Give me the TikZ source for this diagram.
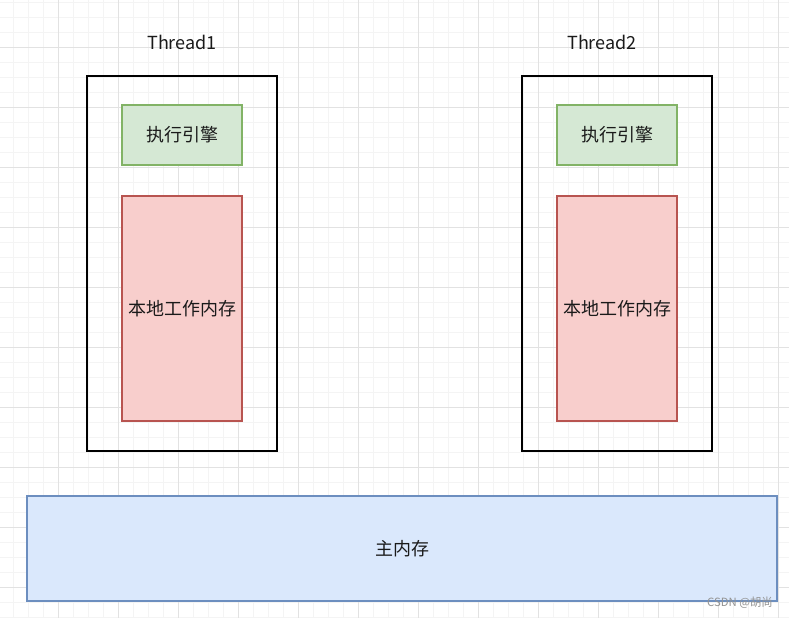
\documentclass[tikz,border=0pt]{standalone}
\usepackage{fontspec}
\setmainfont{Noto Sans CJK SC}
\usetikzlibrary{positioning}

\definecolor{gridminor}{HTML}{F4F4F4}
\definecolor{gridmajor}{HTML}{E2E2E2}
\definecolor{greenfill}{HTML}{D5E8D4}
\definecolor{greenline}{HTML}{82B366}
\definecolor{redfill}{HTML}{F8CECC}
\definecolor{redline}{HTML}{B85450}
\definecolor{bluefill}{HTML}{DAE8FC}
\definecolor{blueline}{HTML}{6C8EBF}
\definecolor{textcol}{HTML}{1A1A1A}

\tikzset{
  box/.style={rectangle, inner sep=0pt, text=textcol, font=\fontsize{13.5pt}{16pt}\selectfont},
  threadbox/.style={box, draw=black, line width=1.5pt, minimum width=142.5pt, minimum height=281.25pt},
  engine/.style={box, draw=greenline, fill=greenfill, line width=1.1pt, minimum width=90pt, minimum height=45pt},
  localmem/.style={box, draw=redline, fill=redfill, line width=1.1pt, minimum width=90pt, minimum height=168.75pt},
  mainmem/.style={box, draw=blueline, fill=bluefill, line width=1.1pt, minimum width=562.5pt, minimum height=78.75pt},
  title/.style={text=textcol, font=\fontsize{13.5pt}{16pt}\selectfont}
}

\begin{document}
\begin{tikzpicture}[x=0.75pt, y=-0.75pt]
  \useasboundingbox (0,0) rectangle (789,618);
  \fill[white] (0,0) rectangle (789,618);

  % background grid
  \foreach \gx in {13,28,...,789} \draw[gridminor, line width=0.5pt] (\gx,0) -- (\gx,618);
  \foreach \gy in {2,17,...,618} \draw[gridminor, line width=0.5pt] (0,\gy) -- (789,\gy);
  \foreach \gx in {58,118,...,789} \draw[gridmajor, line width=0.6pt] (\gx,0) -- (\gx,618);
  \foreach \gy in {47,107,...,618} \draw[gridmajor, line width=0.6pt] (0,\gy) -- (789,\gy);

  % thread 1
  \node[title] (t1) at (182,42) {Thread1};
  \node[threadbox] (thread1) at (182,263.5) {};
  \node[engine] (engine1) at (182,135) {执行引擎};
  \node[localmem] (local1) at (182,308.5) {本地工作内存};

  % thread 2
  \node[title] (t2) at (602,42) {Thread2};
  \node[threadbox] (thread2) at (617,263.5) {};
  \node[engine] (engine2) at (617,135) {执行引擎};
  \node[localmem] (local2) at (617,308.5) {本地工作内存};

  % main memory
  \node[mainmem] (main) at (402,548.5) {主内存};

  \node[text=gray!85, font=\fontsize{8.5pt}{10pt}\selectfont] (mark) at (740,603) {CSDN @胡尚};
\end{tikzpicture}
\end{document}
